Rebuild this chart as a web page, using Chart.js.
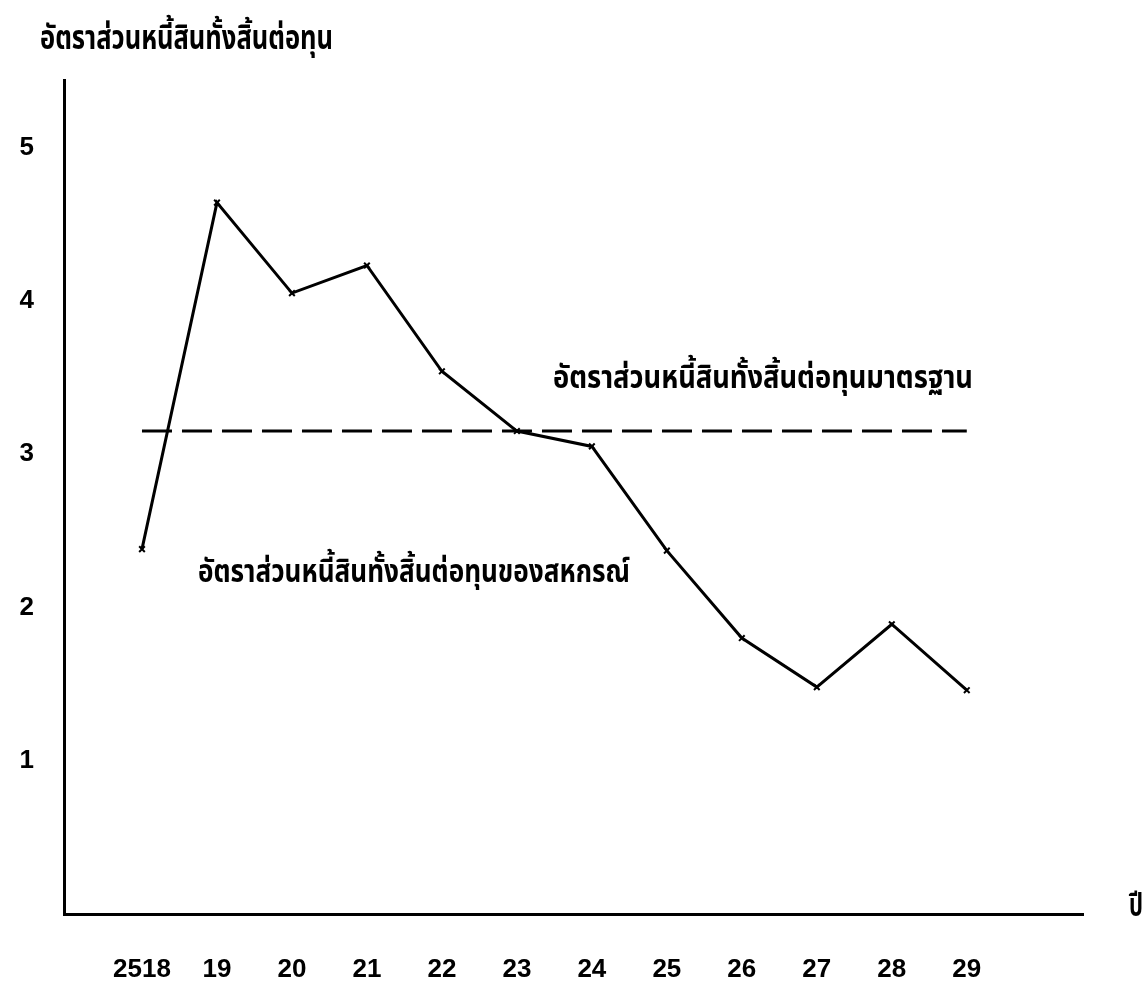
<!DOCTYPE html>
<html><head><meta charset="utf-8">
<script src="https://cdn.jsdelivr.net/npm/chart.js@4"></script>
<style>html,body{margin:0;padding:0;background:#fff;} canvas{display:block;}</style>
</head><body>
<canvas id="c" width="1147" height="985"></canvas>
<script>
// ---- data ----
const years = [18, 19, 20, 21, 22, 23, 24, 25, 26, 27, 28, 29];
const yearLabels = ['2518', '19', '20', '21', '22', '23', '24', '25', '26', '27', '28', '29'];
const coopRatio = [2.38, 4.64, 4.05, 4.23, 3.54, 3.15, 3.05, 2.37, 1.80, 1.48, 1.89, 1.46];
const standardYears = [18, 29];
const standardRatio = [3.15, 3.15];
const yTickValues = [1, 2, 3, 4, 5];
const titleText = 'อัตราส่วนหนี้สินทั้งสิ้นต่อทุน';
const standardLabel = 'อัตราส่วนหนี้สินทั้งสิ้นต่อทุนมาตรฐาน';
const coopLabel = 'อัตราส่วนหนี้สินทั้งสิ้นต่อทุนของสหกรณ์';
const xAxisLabel = 'ปี';

const THAI = '"Noto Sans Thai", "Noto Sans Thai UI", "Noto Serif Thai", Loma, Garuda, "Tlwg Typo", Kinnari, "DejaVu Sans", sans-serif';
const NUM = '"Liberation Sans", Arial, sans-serif';

function drawFit(ctx, text, x, y, w, fs) {
  ctx.save();
  ctx.font = 'bold ' + fs + 'px ' + THAI;
  ctx.textBaseline = 'middle';
  ctx.textAlign = 'left';
  const m = ctx.measureText(text).width;
  ctx.translate(x, y);
  ctx.scale(w / m, 1);
  ctx.fillStyle = '#000';
  ctx.fillText(text, 0, 0);
  ctx.restore();
}

const textPlugin = {
  id: 'texts',
  afterDraw(chart) {
    const ctx = chart.ctx;
    const a = chart.chartArea;
    drawFit(ctx, titleText, 40, 42, 293, 33);
    drawFit(ctx, standardLabel, 553, 382, 420, 32);
    drawFit(ctx, coopLabel, 198, 576, 432, 32);
    drawFit(ctx, xAxisLabel, a.right + 46, a.bottom - 4, 14, 32);
  }
};

new Chart(document.getElementById('c'), {
  type: 'line',
  data: {
    datasets: [
      {
        label: coopLabel,
        data: years.map((x, i) => ({ x: x, y: coopRatio[i] })),
        borderColor: '#000',
        borderWidth: 3,
        tension: 0,
        pointStyle: 'crossRot',
        pointRadius: 4,
        pointBorderWidth: 2,
        pointBorderColor: '#000',
        fill: false
      },
      {
        label: standardLabel,
        data: standardYears.map((x, i) => ({ x: x, y: standardRatio[i] })),
        borderColor: '#000',
        borderWidth: 3,
        borderDash: [30, 10],
        pointRadius: 0,
        tension: 0,
        fill: false
      }
    ]
  },
  options: {
    responsive: false,
    animation: false,
    events: [],
    layout: { padding: { top: 80, right: 64, left: 0, bottom: 0 } },
    plugins: { legend: { display: false }, title: { display: false }, tooltip: { enabled: false } },
    scales: {
      x: {
        type: 'linear',
        min: 16.96,
        max: 30.55,
        grid: { display: false, drawTicks: false },
        border: { display: true, color: '#000', width: 3 },
        afterBuildTicks: (s) => { s.ticks = years.map(v => ({ value: v })); },
        afterFit: (s) => { s.height = 71; },
        ticks: {
          autoSkip: false, maxRotation: 0, padding: 40,
          color: '#000',
          font: { family: NUM, size: 26, weight: 'bold' },
          callback: (v) => { const i = years.indexOf(v); return i >= 0 ? yearLabels[i] : ''; }
        }
      },
      y: {
        type: 'linear',
        min: 0,
        max: 5.44,
        grid: { display: false, drawTicks: false },
        border: { display: true, color: '#000', width: 3 },
        afterBuildTicks: (s) => { s.ticks = yTickValues.map(v => ({ value: v })); },
        afterFit: (s) => { s.width = 64; },
        ticks: {
          padding: 30,
          color: '#000',
          font: { family: NUM, size: 26, weight: 'bold' }
        }
      }
    }
  },
  plugins: [textPlugin]
});
</script>
</body></html>
